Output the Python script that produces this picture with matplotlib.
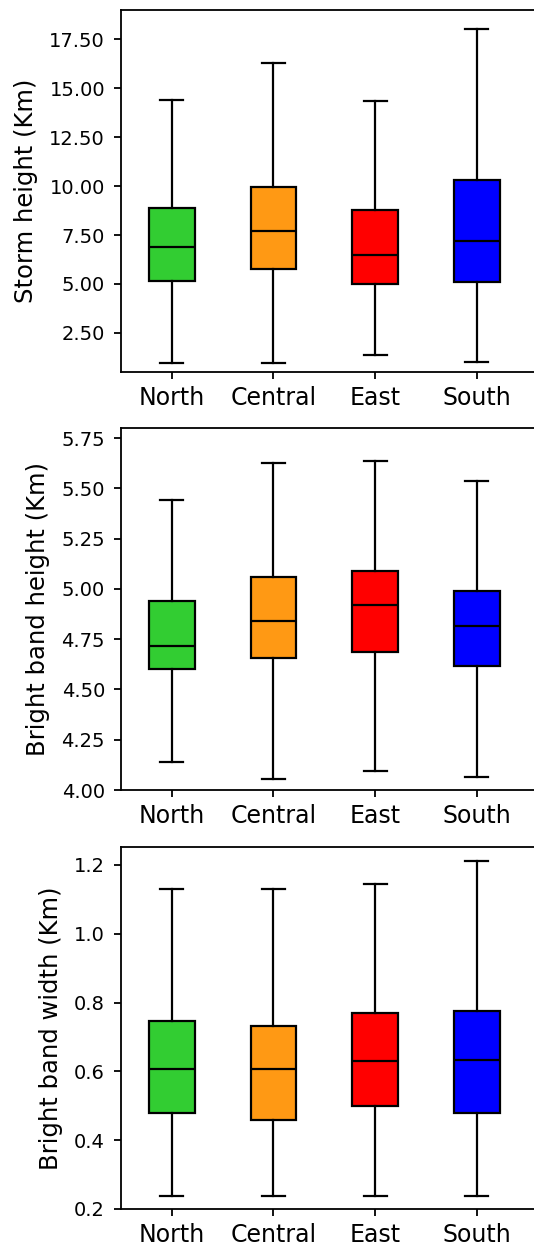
import matplotlib
matplotlib.use('Agg')
import matplotlib.pyplot as plt
from matplotlib.ticker import FormatStrFormatter

regions = ['North', 'Central', 'East', 'South']
colors = ['#32cd32', '#ff9914', '#ff0000', '#0000ff']

# whisker low, Q1, median, Q3, whisker high for each region
storm_height = [
    [0.96, 5.15, 6.89, 8.90, 14.40],
    [0.98, 5.75, 7.72, 9.97, 16.29],
    [1.35, 5.01, 6.49, 8.76, 14.37],
    [1.01, 5.10, 7.19, 10.29, 18.01],
]
bb_height = [
    [4.138, 4.600, 4.715, 4.940, 5.444],
    [4.055, 4.657, 4.842, 5.059, 5.624],
    [4.093, 4.688, 4.922, 5.091, 5.634],
    [4.065, 4.618, 4.817, 4.988, 5.535],
]
bb_width = [
    [0.239, 0.479, 0.607, 0.747, 1.129],
    [0.239, 0.460, 0.608, 0.732, 1.129],
    [0.239, 0.499, 0.629, 0.770, 1.145],
    [0.239, 0.479, 0.632, 0.774, 1.212],
]

panels = [
    (storm_height, 'Storm height (Km)', (0.5, 19.0), [2.5, 5, 7.5, 10, 12.5, 15, 17.5], '%.2f'),
    (bb_height, 'Bright band height (Km)', (4.0, 5.8), [4.0, 4.25, 4.5, 4.75, 5.0, 5.25, 5.5, 5.75], '%.2f'),
    (bb_width, 'Bright band width (Km)', (0.2, 1.252), [0.2, 0.4, 0.6, 0.8, 1.0, 1.2], '%.1f'),
]

W, H = 534, 1248
fig = plt.figure(figsize=(W / 100, H / 100), dpi=100)

tops = [10, 428, 847]
ax_h = 362
left = 121
ax_w = 427

for (data, label, ylim, ticks, fmt), top in zip(panels, tops):
    ax = fig.add_axes([left / W, 1 - (top + ax_h) / H, ax_w / W, ax_h / H])
    stats = []
    for name, v in zip(regions, data):
        stats.append({'label': name, 'whislo': v[0], 'q1': v[1], 'med': v[2],
                      'q3': v[3], 'whishi': v[4], 'fliers': []})
    bp = ax.bxp(stats, positions=[1, 2, 3, 4], widths=0.45, patch_artist=True,
                showfliers=False,
                boxprops=dict(linewidth=1.6, edgecolor='black'),
                medianprops=dict(color='black', linewidth=1.6),
                whiskerprops=dict(linewidth=1.6),
                capprops=dict(linewidth=1.6))
    for patch, c in zip(bp['boxes'], colors):
        patch.set_facecolor(c)
    ax.set_xlim(0.5, 4.7)
    ax.set_ylim(*ylim)
    ax.set_yticks(ticks)
    ax.yaxis.set_major_formatter(FormatStrFormatter(fmt))
    ax.set_ylabel(label, fontsize=17.5, labelpad=8)
    ax.tick_params(axis='y', labelsize=14, length=5, width=1.3, pad=6.5)
    ax.tick_params(axis='x', labelsize=17, length=5, width=1.3, pad=5)
    for s in ax.spines.values():
        s.set_linewidth(1.3)

fig.savefig('out.png', dpi=100)
